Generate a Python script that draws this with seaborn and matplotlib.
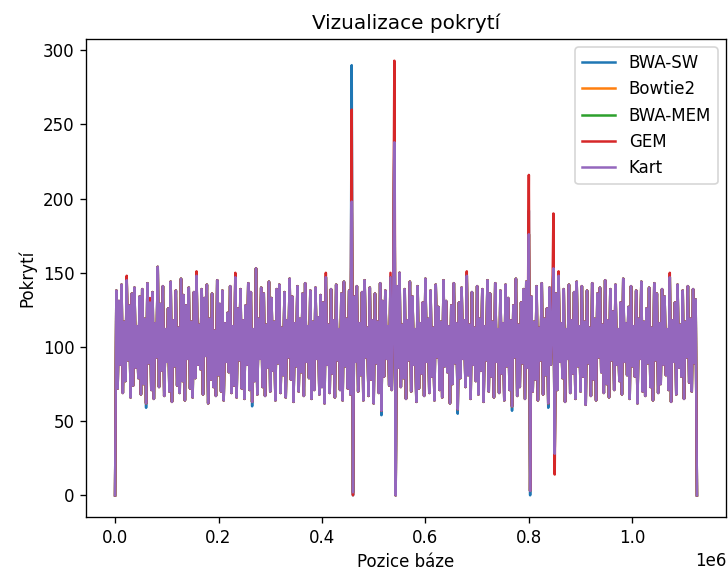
import numpy as np
import pandas as pd
import matplotlib
matplotlib.use("Agg")
import matplotlib.pyplot as plt
import seaborn as sns

# Coverage sampled every 2500 bp along the reference (0 .. 1 125 000)
bin_size = 2500
kart = [
    0, 138, 72, 131, 88, 142, 69, 117, 77, 145, 91, 128, 66, 136, 74, 140, 86, 114, 79, 134,
    68, 139, 75, 119, 62, 143, 89, 130, 71, 137, 65, 116, 93, 154, 73, 129, 84, 141, 67, 112,
    90, 126, 70, 144, 63, 118, 87, 138, 74, 113, 69, 146, 77, 135, 64, 128, 92, 140, 72, 117,
    66, 137, 79, 148, 88, 115, 85, 139, 68, 133, 94, 142, 62, 119, 78, 136, 73, 111, 67, 145,
    81, 129, 70, 138, 64, 116, 90, 123, 83, 141, 69, 114, 74, 147, 66, 126, 91, 139, 72, 118,
    65, 128, 88, 143, 71, 137, 63, 112, 77, 153, 68, 119, 92, 140, 73, 136, 67, 115, 86, 144,
    70, 133, 84, 117, 64, 139, 89, 142, 69, 113, 81, 137, 66, 118, 93, 146, 78, 134, 63, 116,
    87, 141, 70, 119, 83, 136, 67, 143, 90, 114, 79, 138, 65, 117, 71, 140, 92, 120, 68, 135,
    73, 130, 62, 147, 88, 115, 69, 139, 82, 118, 66, 142, 91, 112, 71, 136, 64, 144, 87, 119,
    72, 138, 68, 198, 2, 134, 90, 141, 70, 116, 81, 137, 64, 145, 93, 113, 67, 140, 78, 118,
    62, 136, 89, 117, 69, 143, 57, 131, 80, 138, 92, 114, 74, 147, 71, 119, 238, 0, 141, 86,
    150, 73, 115, 79, 139, 65, 118, 91, 144, 70, 134, 88, 112, 63, 141, 72, 116, 82, 130, 67,
    146, 90, 119, 69, 138, 80, 113, 64, 142, 93, 127, 71, 117, 66, 145, 87, 131, 83, 114, 62,
    128, 75, 143, 89, 116, 58, 130, 79, 140, 92, 118, 73, 148, 81, 115, 65, 137, 88, 113, 77,
    141, 68, 119, 84, 139, 63, 114, 91, 145, 70, 136, 80, 117, 66, 143, 90, 112, 69, 138, 82,
    116, 64, 142, 87, 133, 71, 118, 60, 128, 93, 146, 67, 115, 73, 130, 89, 139, 65, 144, 86,
    176, 3, 134, 70, 117, 78, 141, 64, 113, 91, 143, 68, 119, 81, 126, 62, 140, 88, 115, 153,
    28, 136, 71, 148, 90, 116, 79, 139, 63, 112, 92, 142, 69, 118, 82, 137, 65, 144, 87, 114,
    70, 141, 80, 117, 61, 138, 89, 113, 67, 143, 78, 119, 64, 136, 93, 140, 83, 115, 69, 145,
    75, 118, 66, 139, 91, 124, 71, 142, 88, 112, 77, 130, 68, 146, 90, 116, 81, 127, 65, 141,
    87, 114, 80, 138, 62, 119, 92, 144, 70, 117, 67, 126, 89, 140, 73, 113, 64, 143, 91, 136,
    69, 116, 75, 139, 88, 134, 81, 112, 71, 147, 63, 118, 90, 130, 68, 142, 86, 115, 80, 138,
    65, 117, 93, 141, 76, 119, 70, 139, 89, 132, 0,
]

# Bins where the aligners disagree (repeat regions)
diff_bins = [183, 184, 216, 217, 320, 321, 339, 340]
bwasw_diff = [290, 0, 252, 0, 192, 0, 153, 28]
bowtie2_diff = [198, 2, 238, 0, 176, 3, 153, 28]
bwamem_diff = [198, 2, 238, 0, 176, 3, 153, 28]
gem_diff = [260, 0, 293, 0, 216, 3, 190, 14]

# Small per-bin differences at a few peaks / troughs
gem_small_bins = [9, 27, 63, 93, 163, 213, 272, 343, 429]
gem_small_vals = [148, 133, 151, 150, 150, 150, 151, 151, 150]
bwasw_small_bins = [24, 106, 206, 265, 307, 335]
bwasw_small_vals = [59, 60, 54, 55, 57, 59]

aligners = ["BWA-SW", "Bowtie2", "BWA-MEM", "GEM", "Kart"]


def series(diff, small_bins=(), small_vals=()):
    vals = np.array(kart, dtype=float)
    vals[diff_bins] = diff
    if len(small_bins):
        vals[list(small_bins)] = small_vals
    return vals


positions = np.arange(len(kart)) * bin_size
coverage = {
    "BWA-SW": series(bwasw_diff, bwasw_small_bins, bwasw_small_vals),
    "Bowtie2": series(bowtie2_diff),
    "BWA-MEM": series(bwamem_diff),
    "GEM": series(gem_diff, gem_small_bins, gem_small_vals),
    "Kart": np.array(kart, dtype=float),
}

df = pd.concat(
    [pd.DataFrame({"pos": positions, "cov": coverage[a], "aligner": a}) for a in aligners],
    ignore_index=True,
)

fig = plt.figure(figsize=(728 / 120, 576 / 120), dpi=120)
ax = fig.add_axes([0.1181, 0.1024, 0.9973 - 0.1181, 0.9323 - 0.1024])

sns.lineplot(
    data=df, x="pos", y="cov", hue="aligner", hue_order=aligners,
    palette=sns.color_palette("tab10", 5), estimator=None, sort=False,
    linewidth=1.5, ax=ax,
)

ax.set_title("Vizualizace pokrytí")
ax.set_xlabel("Pozice báze")
ax.set_ylabel("Pokrytí")
ax.legend(loc="upper right")

fig.savefig("out.png", dpi=120)
